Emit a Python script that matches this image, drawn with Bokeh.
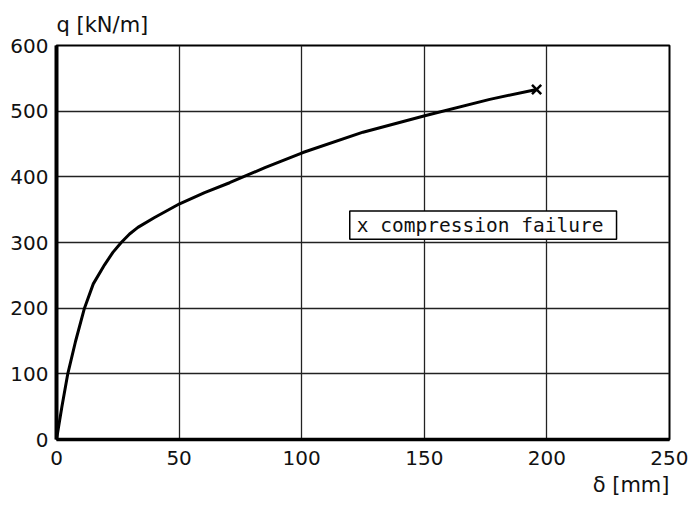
from bokeh.plotting import figure
from bokeh.models import FixedTicker, Label, BoxAnnotation, Range1d, Title
from bokeh.embed import file_html
from bokeh.resources import INLINE

# Data
delta_mm = [0, 2.2, 4.6, 7.8, 11.4, 15, 19.6, 23, 26.4, 29.8, 33.2, 40, 50.2, 60.4, 70.6,
            85, 100.5, 125, 150.2, 176.7, 195.8]
q_kNm = [0, 50, 100, 150, 200, 237, 266, 285, 300, 313, 323, 338, 359, 376, 391,
         414, 437, 468, 493, 518, 533]
failure_delta = [195.8]
failure_q = [533]
x_ticks = [0, 50, 100, 150, 200, 250]
y_ticks = [0, 100, 200, 300, 400, 500, 600]
legend_text = "x compression failure"
x_title = "δ [mm]"
y_title = "q [kN/m]"

FONT = "DejaVu Sans"

p = figure(width=688, height=506, output_backend="svg", toolbar_location=None,
           x_range=Range1d(0, 250), y_range=Range1d(0, 600),
           min_border_left=56, min_border_right=19, min_border_top=45, min_border_bottom=67)

p.background_fill_color = "white"
p.border_fill_color = "white"
p.outline_line_color = "black"
p.outline_line_width = 2

for ax in (p.xaxis[0], p.yaxis[0]):
    ax.major_tick_line_color = None
    ax.minor_tick_line_color = None
    ax.major_label_text_font = FONT
    ax.major_label_text_font_size = "20px"
    ax.major_label_text_color = "#111111"
    ax.axis_line_color = "black"

p.xaxis.ticker = FixedTicker(ticks=x_ticks)
p.yaxis.ticker = FixedTicker(ticks=y_ticks)
p.xaxis.axis_line_width = 3.5
p.yaxis.axis_line_width = 4
p.xaxis.major_label_standoff = 5
p.yaxis.major_label_standoff = 2

p.xgrid.ticker = FixedTicker(ticks=x_ticks)
p.ygrid.ticker = FixedTicker(ticks=y_ticks)
for g in (p.xgrid[0], p.ygrid[0]):
    g.grid_line_color = "#222222"
    g.grid_line_width = 1.3

# Legend-like box
box = BoxAnnotation(left=119.6, right=228.4, bottom=305, top=348,
                    fill_color="white", fill_alpha=1.0,
                    line_color="black", line_alpha=1.0, line_width=1.5, level="annotation")
p.add_layout(box)
p.add_layout(Label(x=122.5, y=326.5, text=legend_text, text_font="DejaVu Sans Mono",
                   text_font_size="19.5px", text_baseline="middle", text_align="left",
                   text_color="#111111", level="annotation"))

# Curve
p.line(delta_mm, q_kNm, line_color="black", line_width=3, line_join="round")
p.scatter(failure_delta, failure_q, marker="x", size=13, line_color="black", line_width=2.5)

# Axis titles
p.title.text = y_title
p.title.align = "left"
p.title.text_font = FONT
p.title.text_font_size = "21px"
p.title.text_font_style = "normal"
p.title.text_color = "#111111"
p.title.offset = 0
p.title.standoff = 17

p.add_layout(Title(text=x_title, align="right", text_font=FONT, text_font_size="21px",
                   text_font_style="normal", text_color="#111111", standoff=6), "below")

open("out.html", "w").write(file_html(p, INLINE))
